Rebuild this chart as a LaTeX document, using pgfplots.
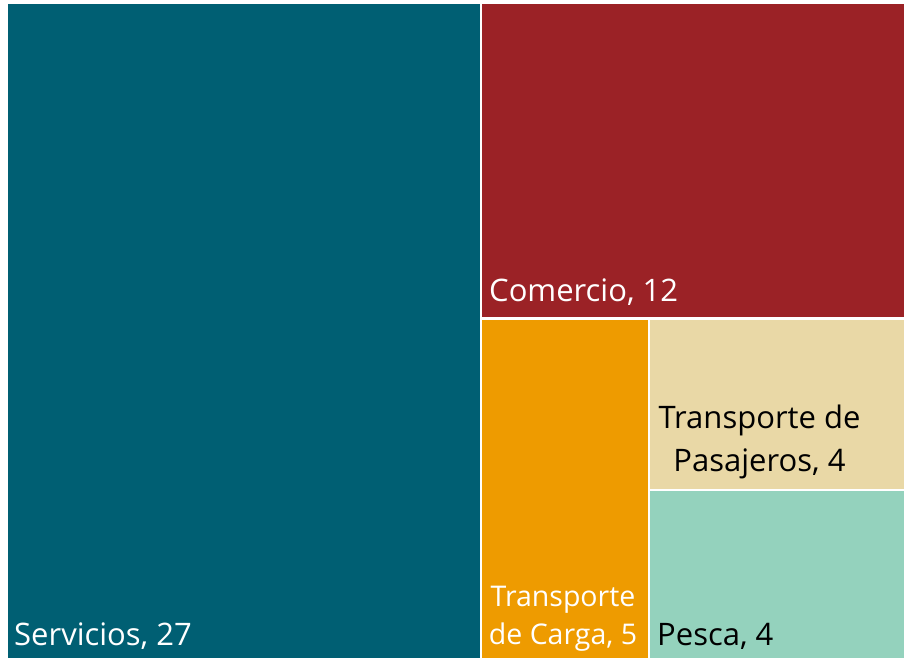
\documentclass[border=0pt]{standalone}
\usepackage{pgfplots}
\pgfplotsset{compat=1.18}
\usepackage{fontspec}
\setmainfont{Open Sans}
\definecolor{cServ}{HTML}{005F73}
\definecolor{cCom}{HTML}{9B2226}
\definecolor{cCarga}{HTML}{EE9B00}
\definecolor{cPas}{HTML}{E9D8A6}
\definecolor{cPesca}{HTML}{94D2BD}
\tikzset{lbl/.style={font=\fontsize{31}{38}\selectfont, inner sep=0pt},
         lbls/.style={font=\fontsize{28.5}{35}\selectfont, inner sep=0pt}}
\begin{document}
\begin{tikzpicture}
\begin{axis}[scale only axis, width=904pt, height=658pt,
  xmin=0, xmax=904, ymin=0, ymax=658, y dir=reverse,
  hide axis, clip=false]
\fill[white] (axis cs:0,0) rectangle (axis cs:904,658);
% Servicios, 27
\addplot[fill=cServ, draw=none] coordinates {(8,4) (479.5,4) (479.5,658) (8,658)} -- cycle;
% Comercio, 12
\addplot[fill=cCom, draw=none] coordinates {(482,4) (904,4) (904,317) (482,317)} -- cycle;
% Transporte de Carga, 5
\addplot[fill=cCarga, draw=none] coordinates {(482,319.5) (648,319.5) (648,658) (482,658)} -- cycle;
% Transporte de Pasajeros, 4
\addplot[fill=cPas, draw=none] coordinates {(650,319.5) (904,319.5) (904,488.5) (650,488.5)} -- cycle;
% Pesca, 4
\addplot[fill=cPesca, draw=none] coordinates {(650,491) (904,491) (904,658) (650,658)} -- cycle;

\node[lbl, anchor=base west, text=white] at (axis cs:14,645) {Servicios, 27};
\node[lbl, anchor=base west, text=white] at (axis cs:489,301) {Comercio, 12};
\node[lbls, anchor=base, text=white] at (axis cs:563,606.5) {Transporte};
\node[lbls, anchor=base, text=white] at (axis cs:563,644) {de Carga, 5};
\node[lbl, anchor=base, text=black] at (axis cs:759.5,428.5) {Transporte de};
\node[lbl, anchor=base, text=black] at (axis cs:759.5,471) {Pasajeros, 4};
\node[lbl, anchor=base west, text=black] at (axis cs:657,645) {Pesca, 4};
\end{axis}
\end{tikzpicture}
\end{document}
